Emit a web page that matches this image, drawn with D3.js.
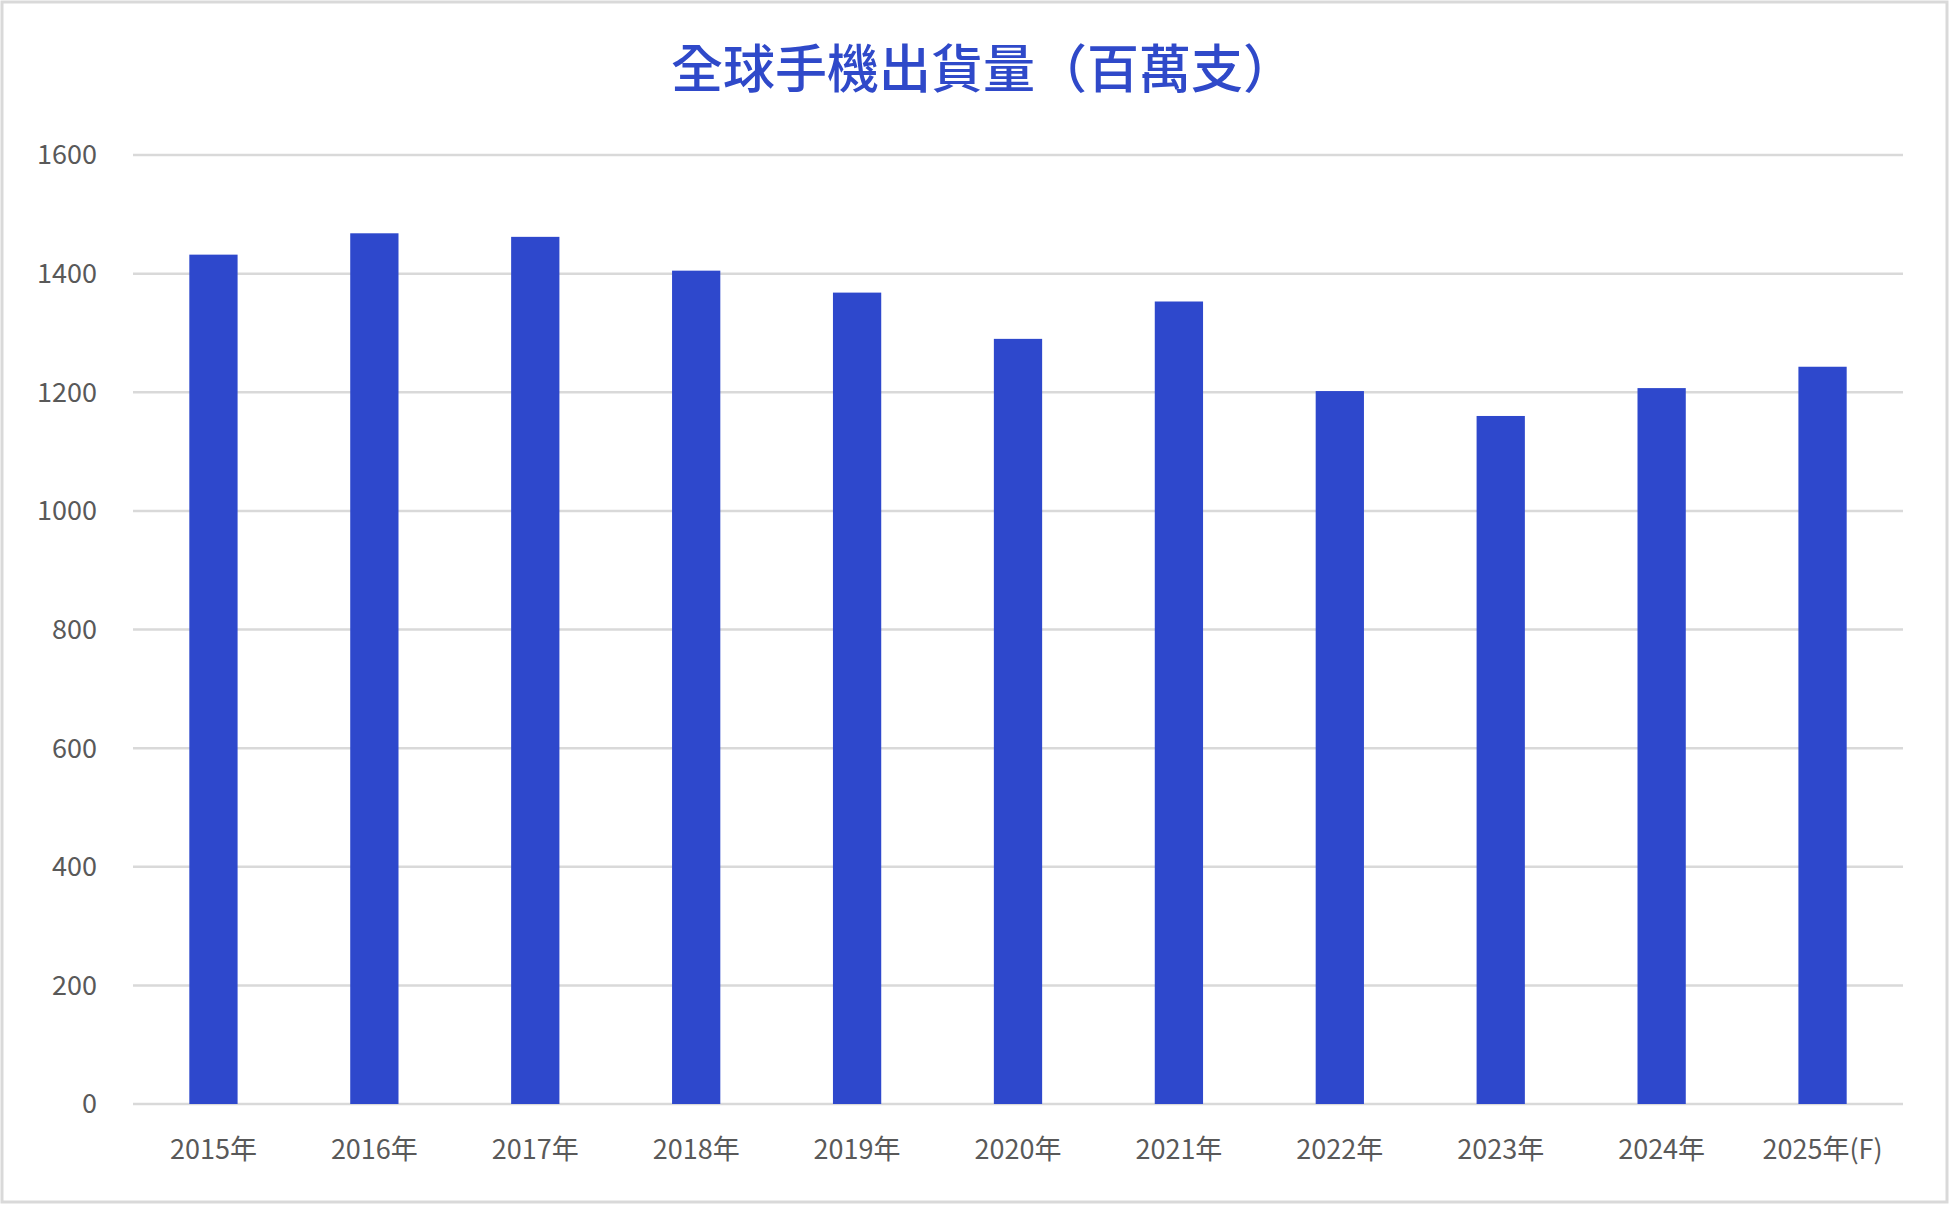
<!DOCTYPE html>
<html><head><meta charset="utf-8">
<script src="https://cdn.jsdelivr.net/npm/d3@7"></script>
<style>body{margin:0;background:#fff}</style></head>
<body><svg id="c" width="1950" height="1206"></svg>
<script>
const categories=["2015年","2016年","2017年","2018年","2019年","2020年","2021年","2022年","2023年","2024年","2025年(F)"];
const values=[1432,1468,1462,1405,1368,1290,1353,1202,1160,1207,1243];
const yTicks=[0,200,400,600,800,1000,1200,1400,1600];
const svg=d3.select("#c");
svg.append("rect").attr("x",2).attr("y",2).attr("width",1945).attr("height",1200).attr("fill","#fff").attr("stroke","#d9d9d9").attr("stroke-width",3);
const x=d3.scaleBand().domain(categories).range([133,1903]).paddingInner(0.7).paddingOuter(0.35);
const y=d3.scaleLinear().domain([0,1600]).range([1104,155]);
const font="'Noto Sans CJK TC','Noto Sans',sans-serif";
svg.append("g").selectAll("line").data(yTicks).join("line")
 .attr("x1",133).attr("x2",1903).attr("y1",d=>y(d)).attr("y2",d=>y(d))
 .attr("stroke","#d9d9d9").attr("stroke-width",2.5);
svg.append("g").selectAll("text").data(yTicks).join("text")
 .attr("x",97).attr("y",d=>y(d)).attr("dy","0.35em").attr("text-anchor","end")
 .attr("font-family",font).attr("font-size",27).attr("fill","#595959").text(d=>d);
svg.append("g").selectAll("rect").data(values).join("rect")
 .attr("x",(d,i)=>x(categories[i])).attr("width",x.bandwidth())
 .attr("y",d=>y(d)).attr("height",d=>y(0)-y(d)).attr("fill","#2e48cc");
svg.append("g").selectAll("text").data(categories).join("text")
 .attr("x",d=>x(d)+x.bandwidth()/2).attr("y",1150).attr("dy","0.35em").attr("text-anchor","middle")
 .attr("font-family",font).attr("font-size",27).attr("fill","#595959").text(d=>d);
svg.append("text").attr("x",983).attr("y",70).attr("dy","0.35em").attr("text-anchor","middle")
 .attr("font-family",font).attr("font-size",52).attr("font-weight",500).attr("fill","#2f49c9")
 .text("全球手機出貨量（百萬支）");
</script></body></html>
